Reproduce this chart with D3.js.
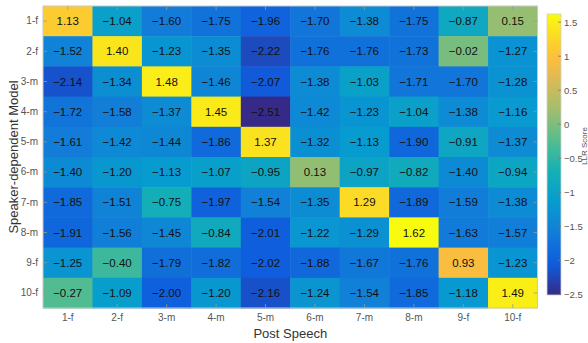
<!DOCTYPE html>
<html>
<head>
<meta charset="utf-8">
<script src="https://cdn.jsdelivr.net/npm/d3@7"></script>
<style>
  body { margin: 0; background: #fff; }
  text { font-family: "Liberation Sans", Arial, sans-serif; }
</style>
</head>
<body>
<div id="chart"></div>
<script>
// rows = speaker-dependent model, columns = post speech
const modelLabels = ["1-f", "2-f", "3-m", "4-m", "5-m", "6-m", "7-m", "8-m", "9-f", "10-f"];
const speechLabels = ["1-f", "2-f", "3-m", "4-m", "5-m", "6-m", "7-m", "8-m", "9-f", "10-f"];

const row1 = [1.13, -1.04, -1.60, -1.75, -1.96, -1.70, -1.38, -1.75, -0.87, 0.15];
const row2 = [-1.52, 1.40, -1.23, -1.35, -2.22, -1.76, -1.76, -1.73, -0.02, -1.27];
const row3 = [-2.14, -1.34, 1.48, -1.46, -2.07, -1.38, -1.03, -1.71, -1.70, -1.28];
const row4 = [-1.72, -1.58, -1.37, 1.45, -2.51, -1.42, -1.23, -1.04, -1.38, -1.16];
const row5 = [-1.61, -1.42, -1.44, -1.86, 1.37, -1.32, -1.13, -1.90, -0.91, -1.37];
const row6 = [-1.40, -1.20, -1.13, -1.07, -0.95, 0.13, -0.97, -0.82, -1.40, -0.94];
const row7 = [-1.85, -1.51, -0.75, -1.97, -1.54, -1.35, 1.29, -1.89, -1.59, -1.38];
const row8 = [-1.91, -1.56, -1.45, -0.84, -2.01, -1.22, -1.29, 1.62, -1.63, -1.57];
const row9 = [-1.25, -0.40, -1.79, -1.82, -2.02, -1.88, -1.67, -1.76, 0.93, -1.23];
const row10 = [-0.27, -1.09, -2.00, -1.20, -2.16, -1.24, -1.54, -1.85, -1.18, 1.49];
const scores = [row1, row2, row3, row4, row5, row6, row7, row8, row9, row10];

const colorbarTicks = [-2.5, -2, -1.5, -1, -0.5, 0, 0.5, 1, 1.5];

// parula samples (index out of 63)
const parulaIdx = [0, 7, 14, 21, 28, 35, 42, 49, 53, 56, 63];
const parula = ["#352a87", "#0f5cdd", "#127dd8", "#079ccf", "#15b1b4", "#59bd8c",
    "#a5be6b", "#e1ba52", "#fdbe3d", "#fcce2e", "#f9fb0e"];

const width = 588, height = 343;
const plot = { left: 43, top: 6, right: 537.5, bottom: 308 };
const bar = { left: 547, right: 561, top: 14, bottom: 295 };

const svg = d3.select("#chart").append("svg")
    .attr("width", width)
    .attr("height", height);

const cells = [];
scores.forEach((row, i) => row.forEach((v, j) => cells.push({ model: modelLabels[i], speech: speechLabels[j], v })));

const all = cells.map(d => d.v);
const vmin = d3.min(all), vmax = d3.max(all);

const color = d3.scaleLinear()
    .domain(parulaIdx.map(k => vmin + (vmax - vmin) * k / 63))
    .range(parula)
    .interpolate(d3.interpolateRgb);

const x = d3.scaleBand().domain(speechLabels).range([plot.left, plot.right]);
const y = d3.scaleBand().domain(modelLabels).range([plot.top, plot.bottom]);

svg.selectAll("rect.cell")
    .data(cells)
    .enter()
    .append("rect")
    .attr("class", "cell")
    .attr("x", d => x(d.speech))
    .attr("y", d => y(d.model))
    .attr("width", x.bandwidth() + 0.5)
    .attr("height", y.bandwidth() + 0.5)
    .attr("fill", d => color(d.v));

svg.selectAll("text.val")
    .data(cells)
    .enter()
    .append("text")
    .attr("class", "val")
    .attr("x", d => x(d.speech) + x.bandwidth() / 2)
    .attr("y", d => y(d.model) + y.bandwidth() / 2)
    .attr("dy", "0.36em")
    .attr("text-anchor", "middle")
    .style("font-size", "11.5px")
    .style("fill", "#111")
    .text(d => d3.format(".2f")(d.v));

// box + inward ticks
const tickLen = 4;
const tickColor = "#9a9a9a";
svg.append("rect")
    .attr("x", plot.left).attr("y", plot.top)
    .attr("width", plot.right - plot.left).attr("height", plot.bottom - plot.top)
    .attr("fill", "none").attr("stroke", "#c8c8c8").attr("stroke-width", 1);

const xBottom = d3.axisBottom(x).tickSize(0).tickPadding(6);
const gx = svg.append("g").attr("transform", `translate(0,${plot.bottom})`).call(xBottom);
gx.select(".domain").remove();
gx.selectAll("text").style("font-size", "10px").style("fill", "#555");

const yLeft = d3.axisLeft(y).tickSize(0).tickPadding(5);
const gy = svg.append("g").attr("transform", `translate(${plot.left},0)`).call(yLeft);
gy.select(".domain").remove();
gy.selectAll("text").style("font-size", "10px").style("fill", "#555");

const ticks = svg.append("g").attr("stroke", tickColor).attr("stroke-width", 0.8);
speechLabels.forEach(s => {
    const cx = x(s) + x.bandwidth() / 2;
    ticks.append("line").attr("x1", cx).attr("x2", cx).attr("y1", plot.bottom).attr("y2", plot.bottom - tickLen);
    ticks.append("line").attr("x1", cx).attr("x2", cx).attr("y1", plot.top).attr("y2", plot.top + tickLen);
});
modelLabels.forEach(m => {
    const cy = y(m) + y.bandwidth() / 2;
    ticks.append("line").attr("x1", plot.left).attr("x2", plot.left + tickLen).attr("y1", cy).attr("y2", cy);
    ticks.append("line").attr("x1", plot.right).attr("x2", plot.right - tickLen).attr("y1", cy).attr("y2", cy);
});

svg.append("text")
    .attr("x", (plot.left + plot.right) / 2)
    .attr("y", 338)
    .attr("text-anchor", "middle")
    .style("font-size", "13px")
    .style("fill", "#333")
    .text("Post Speech");

svg.append("text")
    .attr("transform", `translate(18,${(plot.top + plot.bottom) / 2}) rotate(-90)`)
    .attr("text-anchor", "middle")
    .style("font-size", "13px")
    .style("fill", "#333")
    .text("Speaker-dependent Model");

// colorbar
const cbScale = d3.scaleLinear().domain([vmin, vmax]).range([bar.bottom, bar.top]);
const defs = svg.append("defs");
const grad = defs.append("linearGradient")
    .attr("id", "cb").attr("x1", 0).attr("y1", 1).attr("x2", 0).attr("y2", 0);
grad.selectAll("stop")
    .data(parula)
    .enter()
    .append("stop")
    .attr("offset", (d, i) => parulaIdx[i] / 63)
    .attr("stop-color", d => d);

svg.append("rect")
    .attr("x", bar.left).attr("y", bar.top)
    .attr("width", bar.right - bar.left).attr("height", bar.bottom - bar.top)
    .attr("fill", "url(#cb)")
    .attr("stroke", "#d0d0d0").attr("stroke-width", 0.8);

const cbAxis = d3.axisRight(cbScale).tickValues(colorbarTicks).tickSize(0).tickPadding(3)
    .tickFormat(d3.format("~g"));
const gcb = svg.append("g").attr("transform", `translate(${bar.right},0)`).call(cbAxis);
gcb.select(".domain").remove();
gcb.selectAll("text").style("font-size", "9.5px").style("fill", "#555");
colorbarTicks.forEach(t => {
    svg.append("line")
        .attr("x1", bar.right).attr("x2", bar.right - 3)
        .attr("y1", cbScale(t)).attr("y2", cbScale(t))
        .attr("stroke", "#777").attr("stroke-width", 0.8);
});

svg.append("text")
    .attr("transform", `translate(587,146) rotate(-90)`)
    .attr("text-anchor", "middle")
    .style("font-size", "8px")
    .style("fill", "#555")
    .text("LLR Score");
</script>
</body>
</html>
